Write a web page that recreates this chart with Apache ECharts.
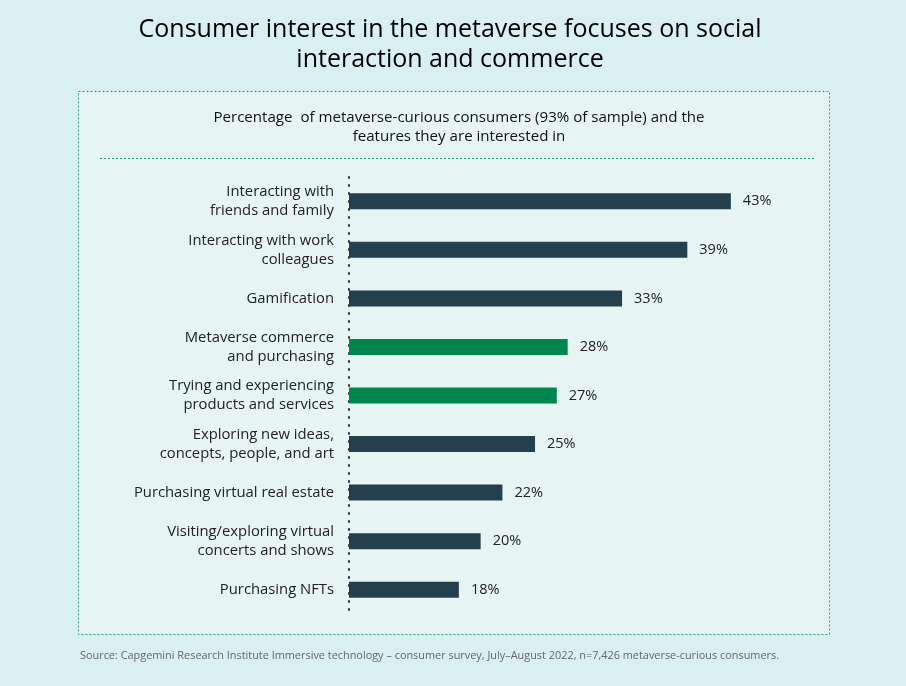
<!DOCTYPE html>
<html>
<head>
<meta charset="utf-8">
<script src="https://cdn.jsdelivr.net/npm/echarts@6/dist/echarts.min.js"></script>
<style>
  html, body { margin: 0; padding: 0; background: #d9eff0; }
  #chart { width: 906px; height: 686px; }
</style>
</head>
<body>
<div id="chart"></div>
<script>
var categories = [
  'Interacting with\nfriends and family',
  'Interacting with work\ncolleagues',
  'Gamification',
  'Metaverse commerce\nand purchasing',
  'Trying and experiencing\nproducts and services',
  'Exploring new ideas,\nconcepts, people, and art',
  'Purchasing virtual real estate',
  'Visiting/exploring virtual\nconcerts and shows',
  'Purchasing NFTs'
]
var values = [43, 39, 33, 28, 27, 25, 22, 20, 18]
var highlighted = [false, false, false, true, true, false, false, false, false]

var font = 'Open Sans'
var dark = '#23404c'
var green = '#00874f'

var myChart = echarts.init(document.getElementById('chart'))

var option = {
  backgroundColor: '#d9eff0',
  title: [
    {
      text: 'Consumer interest in the metaverse focuses on social\ninteraction and commerce',
      left: 445,
      textAlign: 'center',
      top: 10,
      textStyle: { fontFamily: font, fontSize: 25, fontWeight: 'normal', color: '#000', lineHeight: 30 }
    },
    {
      text: 'Percentage  of metaverse-curious consumers (93% of sample) and the\nfeatures they are interested in',
      left: 454,
      textAlign: 'center',
      top: 103,
      textStyle: { fontFamily: font, fontSize: 15.1, fontWeight: 'normal', color: '#111', lineHeight: 19 }
    },
    {
      text: 'Source: Capgemini Research Institute Immersive technology \u2013 consumer survey, July\u2013August 2022, n=7,426 metaverse-curious consumers.',
      left: 75,
      top: 645,
      textStyle: { fontFamily: font, fontSize: 10.9, fontWeight: 'normal', color: '#666' }
    }
  ],
  graphic: [
    {
      type: 'rect',
      z: -1,
      shape: { x: 78.5, y: 91.5, width: 751, height: 543 },
      style: { fill: '#e6f4f4', stroke: '#2e9e6e', lineWidth: 1, lineDash: [2, 2] }
    },
    {
      type: 'line',
      z: -1,
      shape: { x1: 100, y1: 158.5, x2: 816, y2: 158.5 },
      style: { stroke: '#2e9e6e', lineWidth: 1, lineDash: [2, 2] }
    }
  ],
  grid: { left: 349, right: 99, top: 177, bottom: 72, containLabel: false },
  xAxis: {
    type: 'value',
    min: 7.9,
    max: 50,
    show: false
  },
  yAxis: {
    type: 'category',
    inverse: true,
    data: categories,
    axisLine: { show: true, lineStyle: { color: '#333', type: [1, 7], width: 2 } },
    axisTick: { show: false },
    axisLabel: {
      fontFamily: font,
      fontSize: 14.8,
      color: '#222',
      lineHeight: 19,
      margin: 15,
      align: 'right'
    }
  },
  series: [
    {
      type: 'bar',
      barWidth: 16,
      clip: true,
      data: values.map(function (v, i) {
        return { value: v, itemStyle: { color: highlighted[i] ? green : dark } }
      }),
      label: {
        show: true,
        position: 'right',
        distance: 12,
        formatter: '{c}%',
        fontFamily: font,
        fontSize: 14.5,
        color: '#222'
      }
    }
  ]
}

myChart.setOption(option)
</script>
</body>
</html>
